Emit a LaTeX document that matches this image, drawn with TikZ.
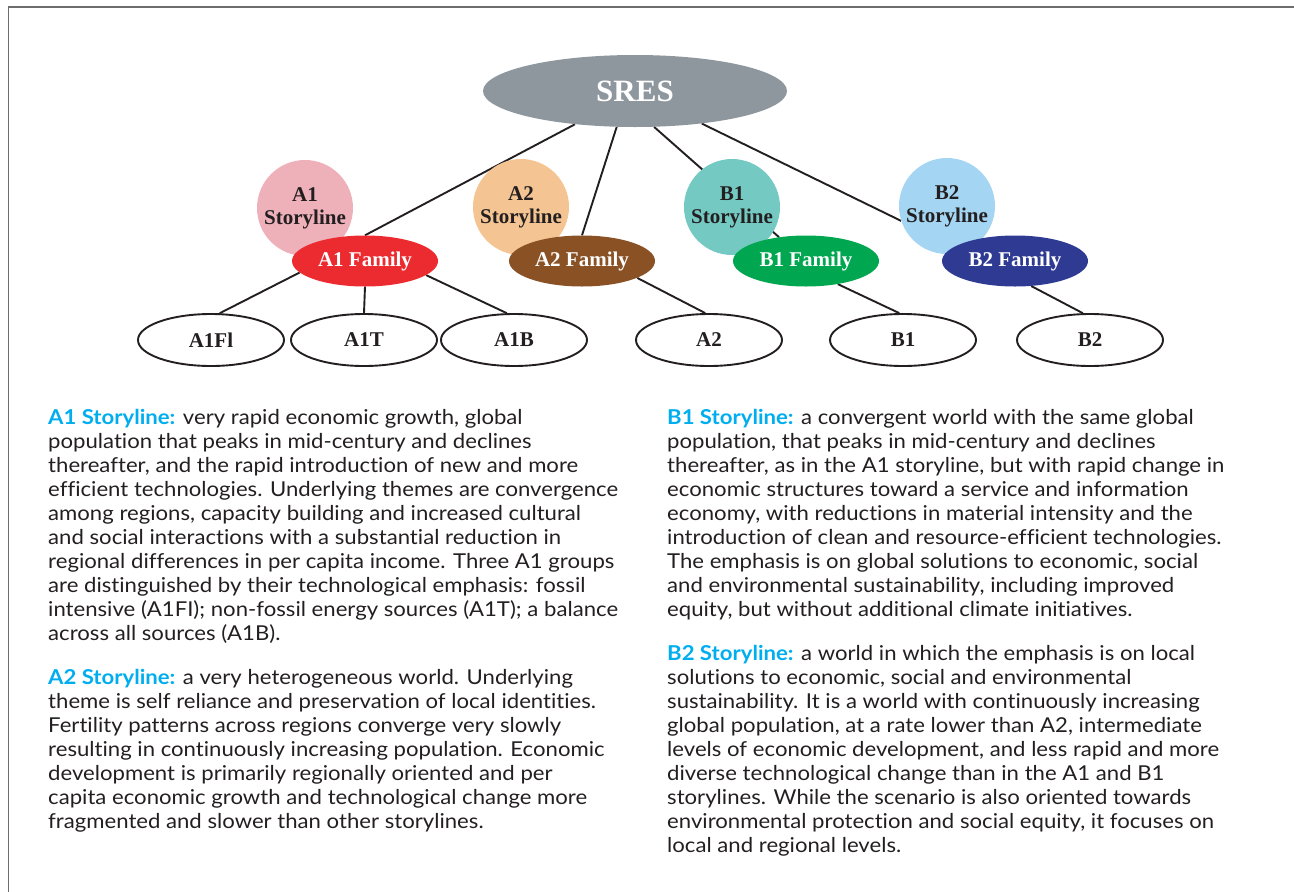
\documentclass[tikz,border=0pt]{standalone}
\usepackage{fontspec}
\setmainfont{Liberation Serif}
\newfontfamily\bodyfont[FakeStretch=1.08, Ligatures=NoCommon]{Lato}
\usetikzlibrary{shapes.geometric,backgrounds}

\definecolor{sresgray}{HTML}{8F979E}
\definecolor{apink}{HTML}{EEB1B9}
\definecolor{apeach}{HTML}{F4C493}
\definecolor{bteal}{HTML}{74C9C2}
\definecolor{bsky}{HTML}{A4D5F3}
\definecolor{famred}{HTML}{EC2B30}
\definecolor{fambrown}{HTML}{8A5125}
\definecolor{famgreen}{HTML}{00A650}
\definecolor{famnavy}{HTML}{2F3A93}
\definecolor{lblcyan}{HTML}{00AEEF}
\definecolor{inkdark}{HTML}{231F20}
\definecolor{framegray}{HTML}{6D6D6D}

\newcommand{\storyhead}[1]{{\bfseries\color{lblcyan}#1}}

\tikzset{
  root/.style={ellipse, fill=sresgray, inner sep=0pt, minimum width=304pt, minimum height=72pt,
    text=white, font=\bfseries\fontsize{31}{34}\selectfont},
  story/.style={circle, fill=#1, inner sep=0pt, minimum size=96pt, align=center,
    text=inkdark, font=\bfseries\fontsize{21}{23}\selectfont},
  family/.style={ellipse, fill=#1, inner sep=0pt, minimum width=146pt, minimum height=51pt,
    text=white, font=\bfseries\fontsize{21}{23}\selectfont},
  scen/.style={ellipse, draw=inkdark, line width=1.9pt, fill=white, inner sep=0pt,
    minimum width=146pt, minimum height=52pt, text=inkdark, font=\bfseries\fontsize{21}{23}\selectfont},
  link/.style={draw=inkdark, line width=1.9pt},
  para/.style={anchor=north west, inner sep=0pt, align=left, text=inkdark,
    font=\bodyfont\fontsize{20.5}{24}\selectfont},
}

\begin{document}
\begin{tikzpicture}[x=1pt, y=-1pt]
\useasboundingbox (0,0) rectangle (1294,892);

% outer frame (top and left edges)
\draw[framegray, line width=1.5pt] (8.5,892) -- (8.5,7) -- (1294,7);

% root
\node[root] (sres) at (635,91) {SRES};

% storyline circles
\node[story=apink]  (a1st) at (305,208) {A1\\Storyline};
\node[story=apeach] (a2st) at (521,207) {A2\\Storyline};
\node[story=bteal]  (b1st) at (732,207) {B1\\Storyline};
\node[story=bsky]   (b2st) at (947,206) {B2\\Storyline};

% families
\node[family=famred]   (a1fam) at (365,261) {A1 Family};
\node[family=fambrown] (a2fam) at (582,261) {A2 Family};
\node[family=famgreen] (b1fam) at (806,261) {B1 Family};
\node[family=famnavy]  (b2fam) at (1015,261) {B2 Family};

% scenario groups
\node[scen] (a1fi) at (211,340) {A1Fl};
\node[scen] (a1t)  at (364,340) {A1T};
\node[scen] (a1b)  at (514,340) {A1B};
\node[scen] (a2)   at (709,340) {A2};
\node[scen] (b1)   at (903,340) {B1};
\node[scen] (b2)   at (1090,340) {B2};

% connectors, kept behind the shapes
\begin{pgfonlayer}{background}
\draw[link] (sres.-151) -- (a1fam.north);
\draw[link] (sres.-117) -- (a2fam.north);
\draw[link] (sres.-62) -- (b1fam);
\draw[link] (sres.-26) -- (b2st.198);
\draw[link] (a1fam.190) -- (a1fi.72);
\draw[link] (a1fam.south) -- (a1t.north);
\draw[link] (a1fam.-13) -- (a1b.105);
\draw[link] (a2fam.-17) -- (a2.98);
\draw[link] (b1fam.-36) -- (b1.98);
\draw[link] (b2fam.-57) -- (b2.105);
\end{pgfonlayer}

% storyline descriptions
\node[para] (a1txt) at (48,409) {\storyhead{A1 Storyline:} very rapid economic growth, global\\
population that peaks in mid-century and declines\\
thereafter, and the rapid introduction of new and more\\
efficient technologies. Underlying themes are convergence\\
among regions, capacity building and increased cultural\\
and social interactions with a substantial reduction in\\
regional differences in per capita income. Three A1 groups\\
are distinguished by their technological emphasis: fossil\\
intensive (A1FI); non-fossil energy sources (A1T); a balance\\
across all sources (A1B).};

\node[para] (a2txt) at (48,669) {\storyhead{A2 Storyline:} a very heterogeneous world. Underlying\\
theme is self reliance and preservation of local identities.\\
Fertility patterns across regions converge very slowly\\
resulting in continuously increasing population. Economic\\
development is primarily regionally oriented and per\\
capita economic growth and technological change more\\
fragmented and slower than other storylines.};

\node[para] (b1txt) at (667,409) {\storyhead{B1 Storyline:} a convergent world with the same global\\
population, that peaks in mid-century and declines\\
thereafter, as in the A1 storyline, but with rapid change in\\
economic structures toward a service and information\\
economy, with reductions in material intensity and the\\
introduction of clean and resource-efficient technologies.\\
The emphasis is on global solutions to economic, social\\
and environmental sustainability, including improved\\
equity, but without additional climate initiatives.};

\node[para] (b2txt) at (667,645) {\storyhead{B2 Storyline:} a world in which the emphasis is on local\\
solutions to economic, social and environmental\\
sustainability. It is a world with continuously increasing\\
global population, at a rate lower than A2, intermediate\\
levels of economic development, and less rapid and more\\
diverse technological change than in the A1 and B1\\
storylines. While the scenario is also oriented towards\\
environmental protection and social equity, it focuses on\\
local and regional levels.};
\end{tikzpicture}
\end{document}
